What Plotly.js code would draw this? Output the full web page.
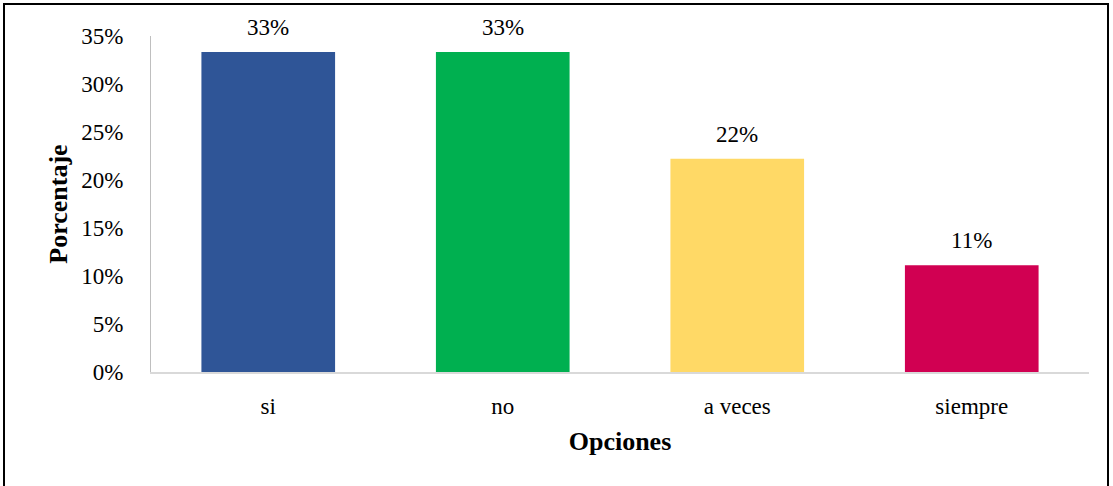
<!DOCTYPE html>
<html>
<head>
<meta charset="utf-8">
<script src="https://cdn.plot.ly/plotly-3.0.1.min.js"></script>
<style>
html,body{margin:0;padding:0;background:#fff;}
#wrap{position:relative;width:1113px;height:486px;}
#chart{width:1113px;height:486px;}
#frame{position:absolute;left:3px;top:3px;width:1106px;height:484px;border:2px solid #000;box-sizing:border-box;pointer-events:none;border-bottom:none;}
</style>
</head>
<body>
<div id="wrap"><div id="chart"></div><div id="frame"></div></div>
<script>
var categories = ["si", "no", "a veces", "siempre"];
var percentages = [33.33, 33.33, 22.22, 11.11];
var barLabels = ["33%", "33%", "22%", "11%"];
var barColors = ["#2F5597", "#00B050", "#FFD966", "#D10052"];
var yTickVals = [0, 5, 10, 15, 20, 25, 30, 35];
var yTickText = ["0%", "5%", "10%", "15%", "20%", "25%", "30%", "35%"];

var font = "Liberation Serif, Times New Roman, serif";

var bars = {
  type: "bar", x: categories, y: percentages, width: 0.57,
  marker: {color: barColors},
  hoverinfo: "x+y", showlegend: false
};

var annotations = categories.map(function (c, i) {
  return {
    x: c, y: percentages[i], xref: "x", yref: "y",
    text: barLabels[i], showarrow: false,
    yanchor: "bottom", yshift: 10,
    font: {family: font, size: 23, color: "#000"}
  };
});

var layout = {
  width: 1113, height: 486,
  margin: {l: 151, r: 24, t: 36, b: 114},
  paper_bgcolor: "#fff", plot_bgcolor: "#fff",
  font: {family: font, size: 23, color: "#000"},
  annotations: annotations,
  xaxis: {
    showline: true, linecolor: "#d9d9d9", linewidth: 2,
    ticks: "", ticklabelstandoff: 12,
    tickfont: {family: font, size: 23, color: "#000"},
    title: {text: "<b>Opciones</b>", font: {family: font, size: 26, color: "#000"}, standoff: 14},
    zeroline: false
  },
  yaxis: {
    range: [0, 35], tickmode: "array", tickvals: yTickVals, ticktext: yTickText,
    showgrid: false, zeroline: false,
    showline: true, linecolor: "#bfbfbf", linewidth: 1,
    ticks: "", ticklabelstandoff: 22,
    tickfont: {family: font, size: 23, color: "#000"},
    title: {text: "<b>Porcentaje</b>", font: {family: font, size: 26, color: "#000"}, standoff: 6}
  }
};

Plotly.newPlot("chart", [bars], layout, {displayModeBar: false, staticPlot: true});
</script>
</body>
</html>
